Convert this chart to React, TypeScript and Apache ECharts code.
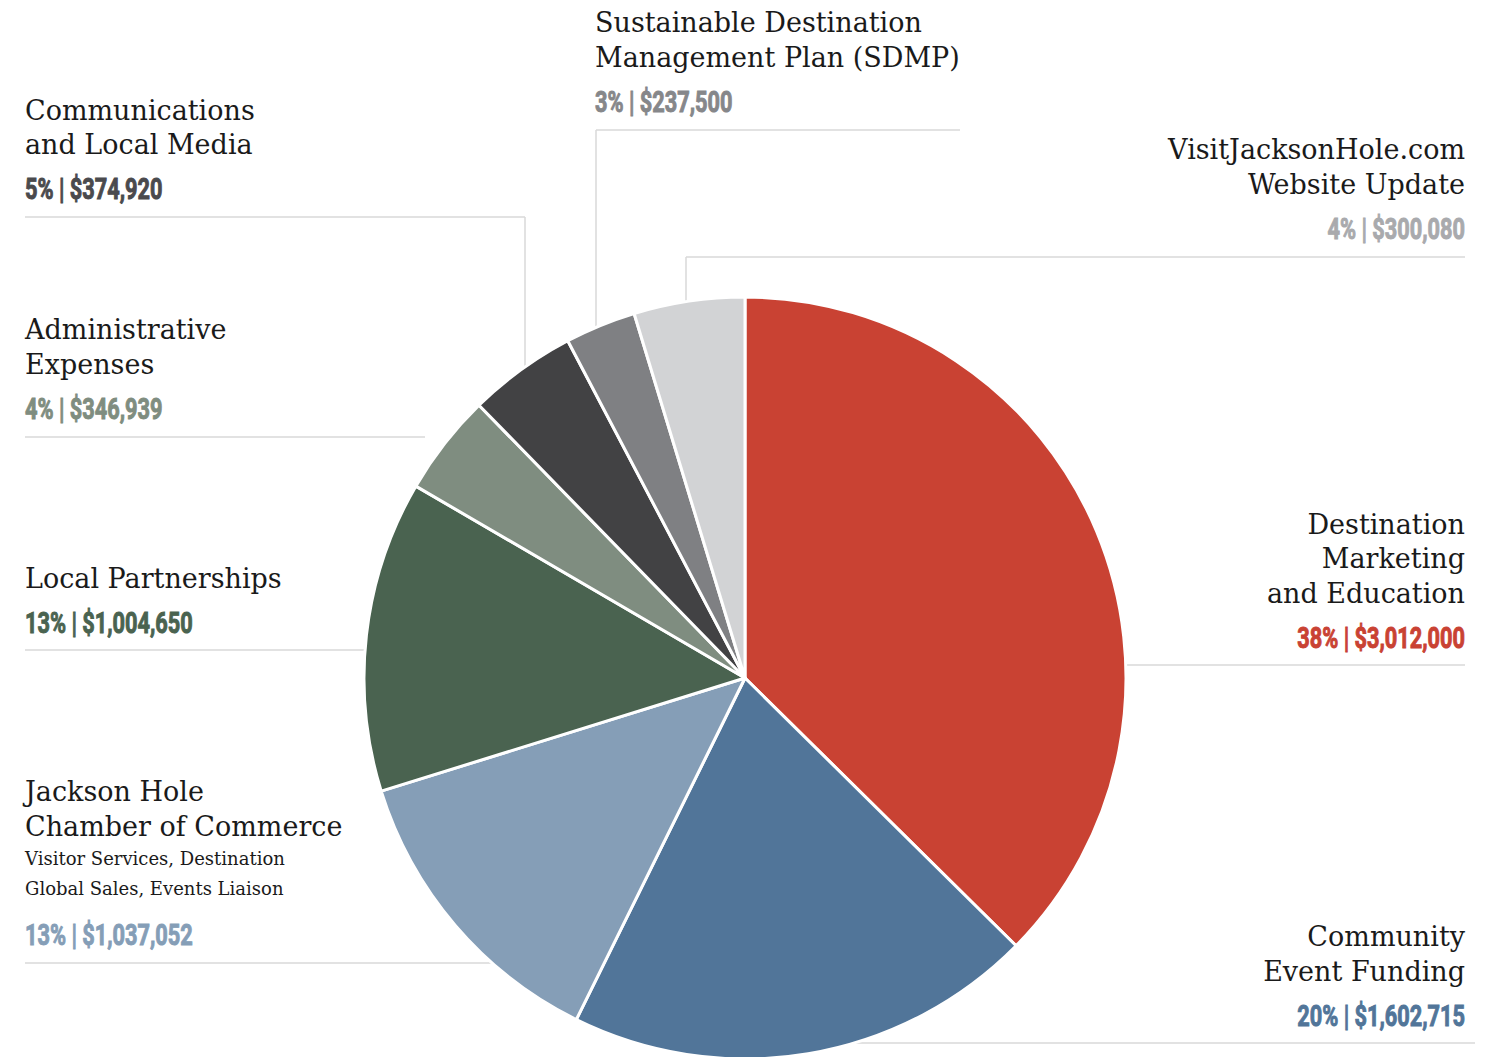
import React, { useEffect, useRef } from 'react';
import * as echarts from 'echarts';

// ---- data ----
const categories = [
  'Destination Marketing and Education',
  'Community Event Funding',
  'Jackson Hole Chamber of Commerce',
  'Local Partnerships',
  'Administrative Expenses',
  'Communications and Local Media',
  'Sustainable Destination Management Plan (SDMP)',
  'VisitJacksonHole.com Website Update',
];
// dollar amounts printed in the labels
const amounts = [3012000, 1602715, 1037052, 1004650, 346939, 374920, 237500, 300080];
// percentages printed in the labels
const percents = [38, 20, 13, 13, 4, 5, 3, 4];
// slice shares as drawn in the picture (percent of the circle)
const sliceShares = [37.4, 19.9, 12.9, 13.2, 4.3, 4.6, 3.0, 4.7];
const titleLines = [
  ['Destination', 'Marketing', 'and Education'],
  ['Community', 'Event Funding'],
  ['Jackson Hole', 'Chamber of Commerce'],
  ['Local Partnerships'],
  ['Administrative', 'Expenses'],
  ['Communications', 'and Local Media'],
  ['Sustainable Destination', 'Management Plan (SDMP)'],
  ['VisitJacksonHole.com', 'Website Update'],
];
const subLines = [[], [], ['Visitor Services, Destination', 'Global Sales, Events Liaison'], [], [], [], [], []];

// ---- styles ----
const sliceColors = ['#C94233', '#517599', '#859EB7', '#4A6350', '#7F8D80', '#424244', '#7F8083', '#D2D3D5'];
const valueColors = ['#C94233', '#517599', '#859EB7', '#4A6350', '#7F8D80', '#4A4A4D', '#86878A', '#A9AAAD'];

const CX = 745;
const CY = 678;
const R = 381;

type Layout = {
  x: number;
  align: 'left' | 'right';
  titleY: number[];
  subY: number[];
  valueY: number;
  lineY: number;
  lineFrom: number | 'edgeL' | 'edgeR';
  lineTo: number | 'edgeL' | 'edgeR';
  vertX?: number;
};
const layouts: Layout[] = [
  { x: 1465, align: 'right', titleY: [524, 558, 593], subY: [], valueY: 638, lineY: 665, lineFrom: 'edgeR', lineTo: 1465 },
  { x: 1465, align: 'right', titleY: [936, 971], subY: [], valueY: 1016, lineY: 1043, lineFrom: 'edgeR', lineTo: 1475 },
  { x: 25, align: 'left', titleY: [791, 826], subY: [858, 888], valueY: 935, lineY: 963, lineFrom: 25, lineTo: 'edgeL' },
  { x: 25, align: 'left', titleY: [578], subY: [], valueY: 623, lineY: 650, lineFrom: 25, lineTo: 'edgeL' },
  { x: 25, align: 'left', titleY: [329, 364], subY: [], valueY: 409, lineY: 437, lineFrom: 25, lineTo: 425 },
  { x: 25, align: 'left', titleY: [110, 144], subY: [], valueY: 189, lineY: 217, lineFrom: 25, lineTo: 525, vertX: 525 },
  { x: 595, align: 'left', titleY: [22, 57], subY: [], valueY: 102, lineY: 130, lineFrom: 596, lineTo: 960, vertX: 596 },
  { x: 1465, align: 'right', titleY: [149, 184], subY: [], valueY: 229, lineY: 257, lineFrom: 686, lineTo: 1465, vertX: 686 },
];

const SERIF = '"DejaVu Serif", "Liberation Serif", serif';
const CONDENSED = 'Roboto, "Noto Sans", sans-serif';
const LINE_COLOR = '#D9D9D9';

function edgeX(y: number, side: 'edgeL' | 'edgeR') {
  const dx = Math.sqrt(Math.max(0, R * R - (y - CY) * (y - CY)));
  return side === 'edgeL' ? CX - dx : CX + dx;
}
function edgeY(x: number) {
  const dy = Math.sqrt(Math.max(0, R * R - (x - CX) * (x - CX)));
  return CY - dy;
}

function textEl(text: string, x: number, y: number, align: string, size: number, family: string, weight: any, fill: string, scaleX = 1, strokeW = 0) {
  const style: any = {
    text,
    fill,
    fontSize: size,
    fontFamily: family,
    fontWeight: weight,
    align,
    verticalAlign: 'middle',
    textAlign: align,
    textVerticalAlign: 'middle',
  };
  if (strokeW > 0) {
    style.stroke = fill;
    style.lineWidth = strokeW;
  }
  return { type: 'text', x, y, scaleX, z: 10, silent: true, style };
}

export default function App() {
  const ref = useRef<HTMLDivElement>(null);
  useEffect(() => {
    document.body.style.margin = '0';
    if (!ref.current) return;
    const chart = echarts.init(ref.current, undefined, { renderer: 'svg' });
    const graphics: any[] = [];
    layouts.forEach((l, i) => {
      titleLines[i].forEach((t, k) => graphics.push(textEl(t, l.x, l.titleY[k], l.align, 27, SERIF, 'normal', '#1A1A1A')));
      subLines[i].forEach((t, k) => graphics.push(textEl(t, l.x, l.subY[k], l.align, 18, SERIF, 'normal', '#1A1A1A')));
      const label = `${percents[i]}% | $${amounts[i].toLocaleString('en-US')}`;
      graphics.push(textEl(label, l.x, l.valueY, l.align, 30, CONDENSED, 'bold', valueColors[i], 0.725, 1));
      const x1 = typeof l.lineFrom === 'number' ? l.lineFrom : edgeX(l.lineY, l.lineFrom);
      const x2 = typeof l.lineTo === 'number' ? l.lineTo : edgeX(l.lineY, l.lineTo);
      graphics.push({ type: 'line', z: 0, silent: true, shape: { x1, y1: l.lineY, x2, y2: l.lineY }, style: { stroke: LINE_COLOR, lineWidth: 1.5 } });
      if (l.vertX !== undefined) {
        graphics.push({ type: 'line', z: 0, silent: true, shape: { x1: l.vertX, y1: l.lineY, x2: l.vertX, y2: edgeY(l.vertX) }, style: { stroke: LINE_COLOR, lineWidth: 1.5 } });
      }
    });
    chart.setOption({
      animation: false,
      backgroundColor: '#FFFFFF',
      graphic: { elements: graphics },
      series: [
        {
          type: 'pie',
          center: [CX, CY],
          radius: R,
          startAngle: 90,
          clockwise: true,
          silent: true,
          z: 5,
          label: { show: false },
          labelLine: { show: false },
          itemStyle: { borderColor: '#FFFFFF', borderWidth: 3 },
          data: categories.map((name, i) => ({ name, value: sliceShares[i], itemStyle: { color: sliceColors[i] } })),
        },
      ],
    });
    return () => chart.dispose();
  }, []);
  return <div ref={ref} style={{ width: 1495, height: 1057 }} />;
}
